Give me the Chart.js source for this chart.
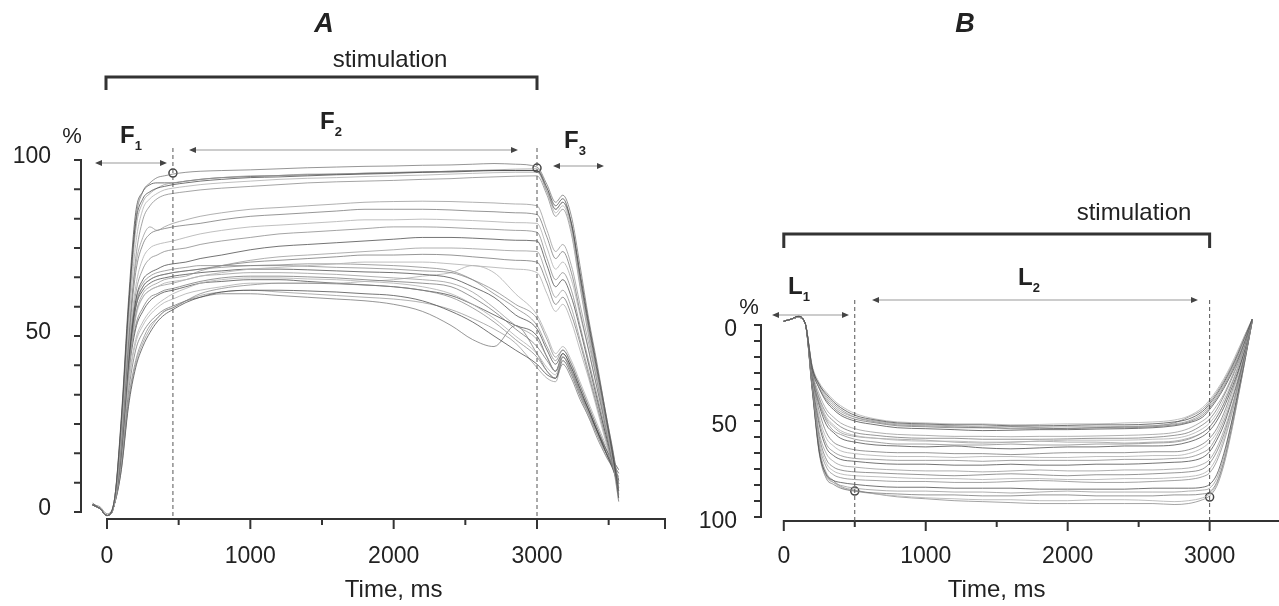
<!DOCTYPE html>
<html>
<head>
<meta charset="utf-8">
<script src="https://cdn.jsdelivr.net/npm/chart.js@4.4.1/dist/chart.umd.min.js"></script>
<style>
  html, body { margin: 0; padding: 0; background: #fff; }
  #wrap { position: relative; width: 1279px; height: 606px; overflow: hidden; }
  canvas { position: absolute; top: 0; }
  #chartA { left: 0; }
  #chartB { left: 680px; }
</style>
</head>
<body>
<div id="wrap">
  <canvas id="chartA" width="680" height="606"></canvas>
  <canvas id="chartB" width="599" height="606"></canvas>
</div>
<script>
// Panel A - time points (ms) and force traces (%)
const timeA = [-100, -50, 0, 50, 100, 150, 200, 250, 300, 350,
  400, 460, 550, 650, 800, 1000, 1200, 1400, 1600, 1800,
  2000, 2200, 2400, 2550, 2700, 2850, 3000, 3070, 3130, 3180,
  3240, 3300, 3360, 3420, 3480, 3540, 3570];

const curvesA = [
  [2,1,-1,3,26,58,82,89,91,92, 92.5,93,93.5,94,94.5,95,95.2,95.5,95.8,96, 96.2,96.5,96.6,96.8,97,97,97,92,87,89, 82,67,53,40,27,13,4],
  [2,1,-1,3,24,55,80,88,90.5,92, 93,93.5,94,94.5,95,95.5,95.6,96,96,96.3, 96.5,96.6,96.8,97,97.2,97.4,97.5,92,86,88, 81,66,52,39,26,12,3],
  [2,1.5,-0.5,3,25,57,83,91,93.5,95, 95.5,96,96.5,96.8,97,97.2,97.5,97.8,98,98.2, 98.3,98.5,98.6,98.8,99,98.8,98,93,88,90, 84,70,55,42,28,15,6],
  [2,1,-1,2,22,52,76,86,89,90.5, 91.5,92,92.5,93,93.5,94,94.5,94.8,95,95.3, 95.5,95.7,96,96.2,96.4,96.5,96.5,91,85,87, 80,65,51,38,25,12,5],
  [2,1,-1,2,20,48,72,83,87,89, 90,90.5,91,91.5,92,92.5,93,93.5,93.8,94, 94.2,94.5,94.7,95,95.2,95.4,95.5,90,84,86, 79,64,50,37,24,11,3],
  [2.5,1,-1,3,27,60,85,91,93,93.5, 93.5,93.5,94,94.5,95,95.3,95.6,95.8,96,96.2, 96.4,96.6,96.8,97,97,97,97,91,86,88, 82,68,54,41,28,14,5],
  [2,1,-1,2,21,50,70,78,81,80, 81,82,83,84,85,86,86.5,87,87.5,88, 88.2,88.3,88.2,88,87.8,87.5,87,80,74,76, 70,59,48,37,26,15,8],
  [2,1,-1,2,20,48,68,76,79,80, 80.5,81,81.5,82,83,84,84.5,85,85.5,86, 86,86,85.8,85.5,85.3,85,84.5,78,72,74, 68,57,46,35,24,13,6],
  [2,1,-1,2,19,46,64,72,75,76, 76.5,77,78,79,80,81,81.5,82,82.5,83, 83,83.2,83,82.8,82.5,82.2,82,75,69,71, 66,56,46,35,25,14,7],
  [2,1,-1,2,18,44,62,69,72,73, 74,74.5,75,76,77,78,79,79.5,80,80.5, 81,81,80.8,80.5,80.3,80,79.5,72,66,68, 63,53,43,33,23,13,8],
  [2,1,-1,2,17,42,60,66,68,69, 70,70.5,71,72,73,74.5,75.5,76,76.5,77, 77.5,78,78,77.8,77.5,77.2,77,70,64,66, 61,52,42,32,22,13,9],
  [2,1,-1,2,16,40,56,62,64,65, 66,66.5,67,68.5,70,71.5,72.5,73,73.5,74, 74.5,75,75,74.8,74.5,74.2,74,67,61,63, 58,49,40,31,22,13,9],
  [2,1,-1,2,17,41,58,64,66,67, 67.5,68,68.5,69,70,71,71.5,72,72.5,73, 73,73.2,73,72.5,72,71.5,71,65,59,61, 56,48,39,30,21,12,8],
  [2,1,-1,2,16,39,55,61,63,64, 65,65.5,66,67,68,69,69.5,70,70.5,71, 71,71,70.5,70,69.5,69,68,62,57,59, 54,46,38,29,20,12,8],
  [2,1,-1,2,19,45,60,65,67,68, 68.5,69,69.5,70,70,70,70,69.8,69.5,69.3, 69,68.5,68,66,63,59,55,49,44,46, 42,36,30,24,18,12,8],
  [2,1,-1,2,18,43,58,63,65,66, 66.5,67,67.5,68,68.5,69,69,68.8,68.5,68.2, 68,67.5,66.5,64,61,56,52,46,42,45, 41,35,29,23,17,11,7],
  [2,1,-1,2,17,42,56,61,63,64, 64.5,65,66,67,67.5,68,68,67.8,67.5,67, 66.5,66,65,62.5,58,53,49,44,40,44, 40,34,28,22,16,11,6],
  [2,1,-1,2,16,40,53,58,61,62, 63,63.5,64.5,65.5,66.5,67,67,66.8,66.5,66, 65.5,65,64,61,57,52,47,43,40,45, 41,35,29,23,17,12,9],
  [2,1,-1,2,15,37,49,54,57,59, 60.5,62,63.5,65,66,66.5,66.5,66.2,66,65.5, 65,64,62,59,55,50,45,41,39,44, 40,34,28,22,17,12,10],
  [2,1,-1,2,13,32,43,49,53,55, 57,58,60,62,63.5,64.5,65,65,64.8,64.5, 64,63,61,58,54,49,44,40,38,43, 39,33,28,22,17,13,11],
  [2,1,-1,2,12,30,41,47,51,54, 56,57.5,59.5,61,62.5,63,63,62.8,62.5,62, 61.5,60,57,54,50,46,42,39,38,44, 40,34,28,23,18,14,12],
  [2,1,-1,2,12,31,42,48,52,55, 57,58,60,61.5,62.5,63,62.5,62,61.5,61, 60.5,59.5,57.5,55,52,48,41,38,37,43, 39,33,27,22,17,13,11],
  [2,1,-1,2,14,34,46,51,54,56, 57.5,58.5,60,61,62,62,61.5,61,60.5,60, 59,57,53,49,47,53,45,40,38,42, 38,32,27,21,16,12,10],
  [2,1,-1,2,15,36,48,53,56,58, 59.5,60.5,62,63,64,65,65,65,65,65.5, 66,67,68,70,68,62,56,50,45,47, 43,37,31,25,19,13,8],
  [2,1,-1,2,18,44,59,64,66,67, 67.5,68,68.5,69,69.5,70,70.2,70.5,70.5,70.3, 70,69.5,68.5,66,62,58,53,47,43,46, 42,36,30,24,18,12,7],
  [2,1,-1,2,16,39,52,57,60,61.5, 62.5,63,64,65,65.5,66,66,65.5,65,64.5, 64,63,61.5,59,56,53,50,44,40,44, 40,34,29,23,17,12,8]
];
const markersA = [[460, 96.3], [3000, 97.7]];

// Panel B - time points (ms) and length traces (%)
const timeB = [0, 50, 100, 150, 200, 250, 300, 350, 400, 500,
  650, 800, 1000, 1200, 1400, 1600, 1800, 2000, 2200, 2400,
  2600, 2750, 2850, 2950, 3000, 3050, 3100, 3150, 3200, 3250,
  3300];

const curvesB = [
  [-2,-3,-4.5,-1,22,31,36,40,43,47, 49.5,51,51.5,52,52,52.5,52.5,52.3,52,52, 51.5,50.5,49,45,41,36,30,23,15,6, -3],
  [-2,-3,-4,-1,22,32,38,42,45,48, 50,51.5,52,52.5,53,53,53.2,53,53,52.8, 52.5,51.5,50,46,42,37,31,24,16,7, -3],
  [-2,-3,-4.5,-1,23,33,39,43,46,49, 51,52.5,53,53.5,53.5,54,54,53.8,53.5,53.5, 53,52,50.5,47,43,38,32,25,17,8, -3],
  [-2,-3,-4,-1,21,30,35,39,42,46, 49,50.5,51,51.5,51.5,52,51.8,51.5,51.5,51, 50.5,49.5,47.5,43,39,34,28,21,13,5, -3],
  [-2,-3,-4,-1,22,31,37,41,44,48, 50.5,52,52.5,53,53.5,53,53.5,54,53.5,53, 52.5,51,48,44,40,35,29,22,14,5, -3],
  [-2,-3,-4,-1,23,33,40,44,47,50, 52,53.5,54,54.5,55,54.8,54.5,54.5,54.2,54, 53.5,52.5,51,48,44,39,33,26,18,8, -3],
  [-2,-3,-4,-1,24,36,44,48,51,54, 56,57,57.5,58,58,58.2,58,58,57.8,57.5, 57,56,54,50,47,42,36,28,19,9, -3],
  [-2,-3,-4.5,-1,25,38,46,50,53,56, 57.5,58.5,59,59,59.5,59.5,59.5,59.3,59,59, 58.5,57.5,56,52,49,44,37,29,20,10, -3],
  [-2,-3,-4,-1,25,39,48,52,55,57.5, 59,60,60.5,60.5,61,61,60.5,60,60,60, 59.5,59,57.5,54,51,46,39,31,22,11, -3],
  [-2,-3,-4,-1,26,41,50,55,57,59.5, 61,62,62,62.5,62.5,62,62.5,62.5,62,62, 61.5,61,59.5,56,53,48,41,32,22,11, -3],
  [-2,-3,-4,-1,26,42,52,56,59,61, 62.5,63,63.5,63,64,64.5,64,63.5,63.5,63, 63,62.5,61,58,55,50,43,34,24,12, -3],
  [-2,-3,-4,-1,25,40,49,53,56,58, 59,59.5,60,61,61.5,61,60.5,61,61,61.5, 61,60.5,59,56,53,48,41,32,22,11, -3],
  [-2,-3,-4,-1,27,45,56,61,63,65, 66,66.5,66.5,67,67,67.5,67,66.5,66.5,66.5, 66,66,65,62,59,54,46,36,25,12, -3],
  [-2,-3,-4,-1,28,48,59,63,65.5,67, 68,68.5,68.5,69,68.5,68.5,69,69,68.5,68.5, 68,68,67,64,61,56,48,38,26,13, -3],
  [-2,-3,-4.5,-1,28,50,62,66,68,69.5, 70,70.5,70.5,70.5,71,70.5,70.5,70.5,70.5,70, 70,69.5,69,66.5,64,58,50,40,28,14, -3],
  [-2,-3,-4,-1,29,52,64,68,70,71, 72,72.5,72.5,73,73,72.5,73,73,72.5,72.5, 72,71.5,71,69,66,60,52,41,29,14, -3],
  [-2,-3,-4,-1,30,56,67,71,73,74, 75,75.5,76,76,76.5,76,75.5,76,76,75.5, 75.5,75,74.5,72.5,70,64,55,44,31,15, -3],
  [-2,-3,-4,-1,31,58,70,74,75.5,76.5, 77,77.5,78,78.5,78,77.5,78,78.5,78,78, 77.5,77,76.5,75,72,66,57,45,31,15, -3],
  [-2,-3,-4.5,-1,31,60,72,76,77.5,78.5, 79,79.5,80,80,80.5,80,80,80.5,80.5,80, 80,79.5,79,77.5,75,69,59,47,32,16, -3],
  [-2,-3,-4,-1,32,62,74,78,79.5,80.5, 81,81.5,81.5,82,82,81.5,81,81.5,82,82, 81.5,81,80.5,79,77,71,61,48,33,16, -3],
  [-2,-3,-4.5,-1,33,66,78,81,82,83, 84,84.5,84.5,85,85,85,85.5,85.5,85.5,85.5, 85,85,85,84.5,83,78,67,52,35,17, -2],
  [-2,-3,-4,-1,33,66,79,82,83.5,85, 86,86.5,86.5,87,87,87.5,87,86.5,87,87, 87,87,86.5,86,85,80,69,53,36,17, -2],
  [-2,-3,-4,-1,34,67,80,83,85,86.5, 87.5,88,88.5,88.5,89,89,88.5,88.5,89,89, 89,88.5,88.5,88,87,82,71,55,37,18, -2],
  [-2,-3,-4,-1,33,65,78,82,84.5,86.5, 88,89,90,90.5,91,91,91.5,91.5,91,91, 91.5,92,91.5,90,88,83,72,56,38,18, -2],
  [-2,-3,-4,-1,32,64,77,81,84,86, 88,89.5,90.5,91.5,92,92.5,93,93,93,93, 93,93.5,93,91,89,84,73,57,38,18, -2]
];
const markersB = [[500, 86.5], [3000, 89.6]];

const yTickLabels = [0, 50, 100];
const xTickLabels = [0, 1000, 2000, 3000];

const greys = ['rgba(70,70,70,0.75)', 'rgba(150,150,150,0.75)', 'rgba(105,105,105,0.7)',
  'rgba(180,180,180,0.85)', 'rgba(125,125,125,0.7)'];
const FONT = '"Liberation Sans", Arial, sans-serif';

function buildDatasets(times, curves, markers) {
  const sets = curves.map((c, i) => ({
    data: times.map((t, k) => ({ x: t, y: c[k] })),
    borderColor: greys[i % greys.length],
    borderWidth: 1,
    pointRadius: 0,
    cubicInterpolationMode: 'monotone',
    fill: false
  }));
  sets.push({
    data: markers.map(m => ({ x: m[0], y: m[1] })),
    showLine: false,
    pointRadius: 4,
    pointBackgroundColor: '#fff',
    pointBorderColor: '#444',
    pointBorderWidth: 1.5
  });
  return sets;
}

function arrow(ctx, x1, x2, y) {
  ctx.save();
  ctx.strokeStyle = '#999';
  ctx.lineWidth = 1;
  ctx.beginPath();
  ctx.moveTo(x1 + 3, y);
  ctx.lineTo(x2 - 3, y);
  ctx.stroke();
  ctx.fillStyle = '#444';
  ctx.beginPath();
  ctx.moveTo(x1, y); ctx.lineTo(x1 + 7, y - 3); ctx.lineTo(x1 + 7, y + 3); ctx.closePath();
  ctx.moveTo(x2, y); ctx.lineTo(x2 - 7, y - 3); ctx.lineTo(x2 - 7, y + 3); ctx.closePath();
  ctx.fill();
  ctx.restore();
}

function phaseLabel(ctx, main, sub, x, y) {
  ctx.save();
  ctx.fillStyle = '#222';
  ctx.textAlign = 'left';
  ctx.textBaseline = 'alphabetic';
  ctx.font = 'bold 24px ' + FONT;
  ctx.fillText(main, x, y);
  const w = ctx.measureText(main).width;
  ctx.font = 'bold 13px ' + FONT;
  ctx.fillText(sub, x + w, y + 7);
  ctx.restore();
}

function dashed(ctx, x, y1, y2) {
  ctx.save();
  ctx.strokeStyle = '#555';
  ctx.lineWidth = 1;
  ctx.setLineDash([4, 3]);
  ctx.beginPath();
  ctx.moveTo(x, y1);
  ctx.lineTo(x, y2);
  ctx.stroke();
  ctx.restore();
}

function bracket(ctx, x1, x2, y, h) {
  ctx.save();
  ctx.strokeStyle = '#333';
  ctx.lineWidth = 3;
  ctx.beginPath();
  ctx.moveTo(x1, y + h);
  ctx.lineTo(x1, y);
  ctx.lineTo(x2, y);
  ctx.lineTo(x2, y + h);
  ctx.stroke();
  ctx.restore();
}

// axes drawn through the chart scales, like the figure's offset axes
function drawAxes(chart, o) {
  const ctx = chart.ctx;
  const xs = chart.scales.x, ys = chart.scales.y;
  ctx.save();
  ctx.strokeStyle = '#333';
  ctx.lineWidth = 2;
  ctx.beginPath();
  ctx.moveTo(o.yAxisX, ys.getPixelForValue(0));
  ctx.lineTo(o.yAxisX, ys.getPixelForValue(100));
  for (let k = 0; k <= 12; k++) {
    const y = ys.getPixelForValue(k * 100 / 12);
    ctx.moveTo(o.yAxisX + 1, y);
    ctx.lineTo(o.yAxisX - 7, y);
  }
  ctx.stroke();

  ctx.beginPath();
  ctx.moveTo(xs.getPixelForValue(0) - 1, o.xAxisY);
  ctx.lineTo(o.xAxisEnd, o.xAxisY);
  for (let t = 0; t <= o.lastTick; t += 500) {
    const x = xs.getPixelForValue(t);
    ctx.moveTo(x, o.xAxisY);
    ctx.lineTo(x, o.xAxisY + (t % 1000 === 0 ? 10 : 6));
  }
  if (o.endTick) {
    ctx.moveTo(o.xAxisEnd - 1, o.xAxisY);
    ctx.lineTo(o.xAxisEnd - 1, o.xAxisY + 10);
  }
  ctx.stroke();

  ctx.fillStyle = '#222';
  ctx.font = '23px ' + FONT;
  ctx.textBaseline = 'middle';
  ctx.textAlign = 'right';
  yTickLabels.forEach(v => ctx.fillText(String(v), o.yLabelX, ys.getPixelForValue(v) + o.yLabelDy));
  ctx.textAlign = 'center';
  xTickLabels.forEach(t => ctx.fillText(String(t), xs.getPixelForValue(t), 557));
  ctx.font = '24px ' + FONT;
  ctx.fillText('Time, ms', xs.getPixelForValue(o.titleAt), 590);
  ctx.font = '22px ' + FONT;
  ctx.fillText('%', o.pctX, o.pctY);
  ctx.restore();
}

const panelA = {
  id: 'panelA',
  afterDraw(chart) {
    const ctx = chart.ctx;
    const xs = chart.scales.x;
    drawAxes(chart, { yAxisX: 81, xAxisY: 519, xAxisEnd: xs.getPixelForValue(3900), lastTick: 3500, endTick: true,
      yLabelX: 51, yLabelDy: -3, titleAt: 2000, pctX: 72, pctY: 137 });
    dashed(ctx, xs.getPixelForValue(460), 148, 519);
    dashed(ctx, xs.getPixelForValue(3000), 148, 519);
    bracket(ctx, xs.getPixelForValue(0) - 1, xs.getPixelForValue(3000), 77, 13);
    ctx.save();
    ctx.fillStyle = '#222';
    ctx.textAlign = 'center';
    ctx.textBaseline = 'middle';
    ctx.font = 'italic bold 27px ' + FONT;
    ctx.fillText('A', 324, 25);
    ctx.font = '24px ' + FONT;
    ctx.fillText('stimulation', 390, 60);
    ctx.restore();
    phaseLabel(ctx, 'F', '1', 120, 143);
    phaseLabel(ctx, 'F', '2', 320, 129);
    phaseLabel(ctx, 'F', '3', 564, 148);
    arrow(ctx, 95, 167, 163);
    arrow(ctx, 189, 518, 150);
    arrow(ctx, 553, 604, 166);
  }
};

const panelB = {
  id: 'panelB',
  afterDraw(chart) {
    const ctx = chart.ctx;
    const xs = chart.scales.x;
    drawAxes(chart, { yAxisX: 81, xAxisY: 521, xAxisEnd: chart.width, lastTick: 3000, endTick: false,
      yLabelX: 57, yLabelDy: 5, titleAt: 1500, pctX: 69, pctY: 308 });
    dashed(ctx, xs.getPixelForValue(500), 300, 521);
    dashed(ctx, xs.getPixelForValue(3000), 300, 521);
    bracket(ctx, xs.getPixelForValue(0), xs.getPixelForValue(3000), 234, 14);
    ctx.save();
    ctx.fillStyle = '#222';
    ctx.textAlign = 'center';
    ctx.textBaseline = 'middle';
    ctx.font = 'italic bold 27px ' + FONT;
    ctx.fillText('B', 285, 25);
    ctx.font = '24px ' + FONT;
    ctx.fillText('stimulation', 454, 213);
    ctx.restore();
    phaseLabel(ctx, 'L', '1', 108, 294);
    phaseLabel(ctx, 'L', '2', 338, 285);
    arrow(ctx, 92, 169, 315);
    arrow(ctx, 192, 518, 300);
  }
};

function baseOptions(pad, xmin, xmax, ymin, ymax, reverse) {
  return {
    responsive: false,
    animation: false,
    devicePixelRatio: 1,
    layout: { padding: pad },
    plugins: { legend: { display: false }, tooltip: { enabled: false } },
    scales: {
      x: { type: 'linear', min: xmin, max: xmax, display: false },
      y: { type: 'linear', min: ymin, max: ymax, reverse: reverse, display: false }
    }
  };
}

new Chart(document.getElementById('chartA'), {
  type: 'line',
  data: { datasets: buildDatasets(timeA, curvesA, markersA) },
  options: baseOptions({ left: 85.5, right: 14, top: 160, bottom: 83.44 }, -150, 3900, -3, 100, false),
  plugins: [panelA]
});

new Chart(document.getElementById('chartB'), {
  type: 'line',
  data: { datasets: buildDatasets(timeB, curvesB, markersB) },
  options: baseOptions({ left: 82.5, right: 0.5, top: 309.64, bottom: 85.16 }, -150, 3450, -8, 102, true),
  plugins: [panelB]
});
</script>
</body>
</html>
